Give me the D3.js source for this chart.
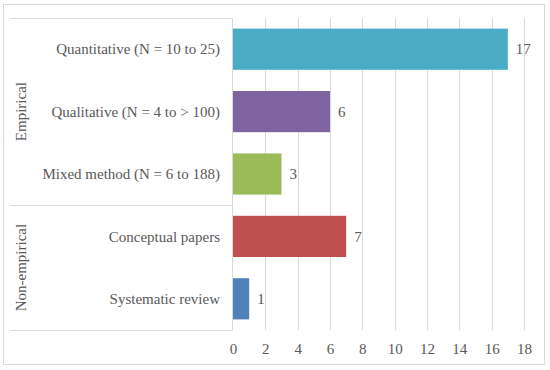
<!DOCTYPE html>
<html><head><meta charset="utf-8">
<script src="https://cdn.jsdelivr.net/npm/d3@7"></script>
<style>body{margin:0;background:#fff}svg{display:block}text{font-family:"Liberation Serif","DejaVu Serif",serif;fill:#595959}</style>
</head><body><svg id="c" width="550" height="370"></svg>
<script>
const categories = ["Quantitative (N = 10 to 25)","Qualitative (N = 4 to > 100)","Mixed method (N = 6 to 188)","Conceptual papers","Systematic review"];
const groups = ["Empirical","Empirical","Empirical","Non-empirical","Non-empirical"];
const values = [17,6,3,7,1];
const colors = ["#4BACC6","#8064A2","#9BBB59","#C0504D","#4F81BD"];
const ticks = [0,2,4,6,8,10,12,14,16,18];

const svg = d3.select("#c");
svg.append("rect").attr("x",3.5).attr("y",4.5).attr("width",541).attr("height",360).attr("fill","none").attr("stroke","#d9d9d9");

const x = d3.scaleLinear().domain([0,18]).range([233,524]);
const y = d3.scaleBand().domain(categories).range([18,330]).paddingInner(0.34).paddingOuter(0.17);

// gridlines
svg.append("g").selectAll("line").data(ticks.slice(1)).join("line")
  .attr("x1",d=>Math.round(x(d))+0.5).attr("x2",d=>Math.round(x(d))+0.5).attr("y1",18).attr("y2",330)
  .attr("stroke","#d9d9d9");

// axis tick labels
const ax = svg.append("g").attr("transform","translate(0,330)").call(d3.axisBottom(x).tickValues(ticks).tickSize(0).tickPadding(13));
ax.select(".domain").remove();
ax.selectAll("text").style("font-family","Liberation Serif").style("font-size","15px").attr("fill","#595959");

// bars
svg.append("g").selectAll("rect").data(values).join("rect")
  .attr("x",x(0)).attr("y",(d,i)=>y(categories[i])).attr("height",y.bandwidth())
  .attr("width",d=>x(d)-x(0)).attr("fill",(d,i)=>colors[i]);

// value labels
svg.append("g").selectAll("text").data(values).join("text")
  .attr("x",d=>x(d)+8).attr("y",(d,i)=>y(categories[i])+y.bandwidth()/2).attr("dy","0.35em")
  .style("font-size","15px").text(d=>d);

// category labels
svg.append("g").selectAll("text").data(categories).join("text")
  .attr("x",220).attr("y",d=>y(d)+y.bandwidth()/2).attr("dy","0.35em").attr("text-anchor","end")
  .style("font-size","15px").text(d=>d);

// group box lines
const gnames = ["Empirical","Non-empirical"];
const bounds = gnames.map(g=>{
  const idx = groups.map((v,i)=>v===g?i:-1).filter(i=>i>=0);
  const step = y.step();
  const top = y(categories[idx[0]]) - y.paddingInner()*step/2;
  const bot = y(categories[idx[idx.length-1]]) + y.bandwidth() + y.paddingInner()*step/2;
  return {g, top:Math.max(18,top), bot:Math.min(330,bot)};
});
const hl = [18, bounds[0].bot, 330];
svg.append("g").selectAll("line").data(hl).join("line")
  .attr("x1",10).attr("x2",233).attr("y1",d=>Math.round(d)+0.5).attr("y2",d=>Math.round(d)+0.5).attr("stroke","#d9d9d9");
svg.append("line").attr("x1",232.5).attr("x2",232.5).attr("y1",18).attr("y2",330).attr("stroke","#d9d9d9");

svg.append("g").selectAll("text").data(bounds).join("text")
  .attr("transform",d=>`translate(25.5,${(d.top+d.bot)/2}) rotate(-90)`)
  .attr("text-anchor","middle").style("font-size","15px").text(d=>d.g);
</script></body></html>
